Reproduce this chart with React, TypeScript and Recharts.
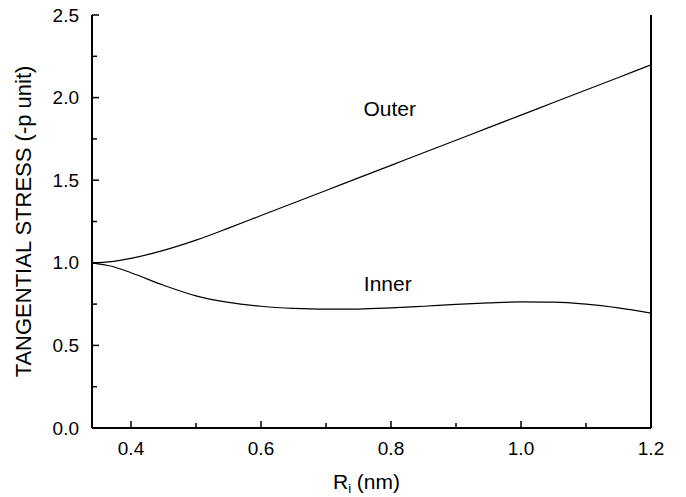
import React from 'react';
import { LineChart, Line, XAxis, YAxis, ReferenceDot } from 'recharts';

const radius = [0.34, 0.37, 0.4, 0.45, 0.5, 0.55, 0.6, 0.65, 0.7, 0.75, 0.8, 0.85, 0.9, 0.95, 1.0, 1.05, 1.1, 1.15, 1.2];
const outerStress = [1.0, 1.0075, 1.027, 1.075, 1.137, 1.21, 1.286, 1.362, 1.438, 1.514, 1.59, 1.666, 1.742, 1.818, 1.894, 1.97, 2.046, 2.122, 2.198];
const innerStress = [1.0, 0.979, 0.94, 0.864, 0.8, 0.76, 0.737, 0.724, 0.719, 0.72, 0.727, 0.737, 0.748, 0.757, 0.763, 0.762, 0.75, 0.727, 0.695];

const xTicks = [0.4, 0.5, 0.6, 0.7, 0.8, 0.9, 1.0, 1.1, 1.2];
const yTicks = [0, 0.25, 0.5, 0.75, 1.0, 1.25, 1.5, 1.75, 2.0, 2.25, 2.5];

const curveLabels = [
  { name: 'Outer', r: 0.798, s: 1.935 },
  { name: 'Inner', r: 0.795, s: 0.877 },
];

const data = radius.map((r, i) => ({ r, outer: outerStress[i], inner: innerStress[i] }));

const FONT = '"Liberation Sans", Arial, Helvetica, sans-serif';

const XTick = (props: any) => {
  const { x, y, payload } = props;
  const v = payload.value as number;
  const major = Math.round(v * 10) % 2 === 0;
  return (
    <g>
      <line x1={x} x2={x} y1={y} y2={y - (major ? 7 : 5)} stroke="#000" strokeWidth={1.5} />
      {major && (
        <text x={x} y={y + 20} textAnchor="middle" dominantBaseline="central" fontSize={19} fontFamily={FONT} fill="#000">
          {v.toFixed(1)}
        </text>
      )}
    </g>
  );
};

const YTick = (props: any) => {
  const { x, y, payload } = props;
  const v = payload.value as number;
  const major = Math.abs(v * 2 - Math.round(v * 2)) < 1e-6;
  return (
    <g>
      <line x1={x} x2={x + (major ? 7 : 5)} y1={y} y2={y} stroke="#000" strokeWidth={1.5} />
      {major && (
        <text x={x - 13} y={y} textAnchor="end" dominantBaseline="central" fontSize={19} fontFamily={FONT} fill="#000">
          {v.toFixed(1)}
        </text>
      )}
    </g>
  );
};

const RTick = (props: any) => {
  const { x, y } = props;
  return <line x1={x} x2={x + 2} y1={y} y2={y} stroke="#000" strokeWidth={1.2} />;
};

const YTitle = (props: any) => {
  const { viewBox } = props;
  const cy = viewBox.y + viewBox.height / 2;
  const cx = 23;
  return (
    <text
      x={cx}
      y={cy}
      transform={`rotate(-90, ${cx}, ${cy})`}
      textAnchor="middle"
      dominantBaseline="central"
      fontSize={22}
      fontFamily={FONT}
      fill="#000"
    >
      TANGENTIAL STRESS (-p unit)
    </text>
  );
};

const XTitle = (props: any) => {
  const { viewBox } = props;
  const cx = viewBox.x + viewBox.width / 2 - 5;
  return (
    <text x={cx} y={481} textAnchor="middle" dominantBaseline="central" fontSize={21} fontFamily={FONT} fill="#000">
      R
      <tspan fontSize={13} dy={7}>i</tspan>
      <tspan dy={-7}> (nm)</tspan>
    </text>
  );
};

export default function App() {
  return (
    <div style={{ position: 'absolute', left: 0, top: 0, width: 686, height: 497 }}>
      <LineChart width={686} height={497} data={data} margin={{ top: 15, right: 0, left: 0, bottom: 0 }}>
        <XAxis
          dataKey="r"
          type="number"
          domain={[0.34, 1.2]}
          ticks={xTicks}
          allowDataOverflow
          height={69}
          tickSize={0}
          tickMargin={0}
          tickLine={false}
          axisLine={{ stroke: '#000', strokeWidth: 2 }}
          tick={<XTick />}
          interval={0}
          label={<XTitle />}
        />
        <XAxis
          xAxisId="top"
          dataKey="r"
          type="number"
          domain={[0.34, 1.2]}
          orientation="top"
          height={0}
          tick={false}
          tickLine={false}
          axisLine={{ stroke: '#000', strokeWidth: 2 }}
        />
        <YAxis
          type="number"
          domain={[0, 2.5]}
          ticks={yTicks}
          width={92}
          tickSize={0}
          tickMargin={0}
          tickLine={false}
          interval={0}
          axisLine={{ stroke: '#000', strokeWidth: 2 }}
          tick={<YTick />}
          label={<YTitle />}
        />
        <YAxis
          yAxisId="right"
          orientation="right"
          type="number"
          domain={[0, 2.5]}
          ticks={yTicks}
          width={35}
          tickSize={0}
          tickMargin={0}
          tickLine={false}
          interval={0}
          axisLine={{ stroke: '#000', strokeWidth: 2 }}
          tick={<RTick />}
        />
        <Line dataKey="outer" type="monotone" stroke="#000" strokeWidth={1.2} dot={false} isAnimationActive={false} />
        <Line dataKey="inner" type="monotone" stroke="#000" strokeWidth={1.2} dot={false} isAnimationActive={false} />
        {curveLabels.map((c) => (
          <ReferenceDot
            key={c.name}
            x={c.r}
            y={c.s}
            r={0}
            stroke="none"
            fill="none"
            label={{ value: c.name, position: 'center', fontSize: 21, fontFamily: FONT, fill: '#000' }}
          />
        ))}
      </LineChart>
    </div>
  );
}
